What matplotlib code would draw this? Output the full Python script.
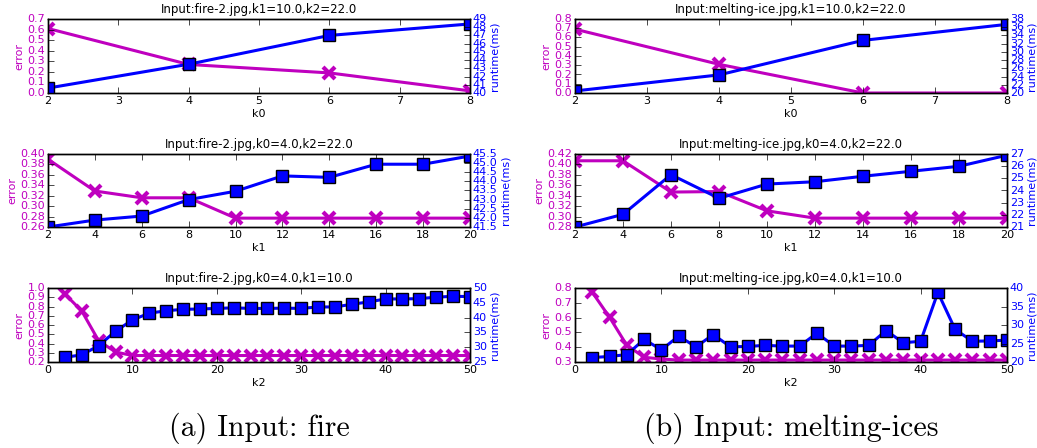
import matplotlib.pyplot as plt
import numpy as np

plt.style.use('classic')
plt.rcParams['figure.facecolor'] = 'white'
plt.rcParams['savefig.facecolor'] = 'white'
plt.rcParams['font.size'] = 8

# k0 sweep (k1=10, k2=22)
k0 = [2, 4, 6, 8]
fire_k0_err = [0.61, 0.27, 0.19, 0.02]
fire_k0_time = [40.6, 43.5, 47.0, 48.4]
ice_k0_err = [0.69, 0.31, 0.0, 0.0]
ice_k0_time = [20.5, 24.4, 32.8, 36.7]

# k1 sweep (k0=4, k2=22)
k1 = [2, 4, 6, 8, 10, 12, 14, 16, 18, 20]
fire_k1_err = [0.390, 0.329, 0.316, 0.316, 0.277, 0.277, 0.277, 0.277, 0.277, 0.277]
fire_k1_time = [41.5, 41.88, 42.1, 43.0, 43.46, 44.3, 44.22, 44.94, 44.94, 45.39]
ice_k1_err = [0.407, 0.407, 0.347, 0.348, 0.311, 0.297, 0.297, 0.297, 0.297, 0.297]
ice_k1_time = [21.0, 22.04, 25.3, 23.36, 24.53, 24.72, 25.17, 25.58, 25.99, 26.9]

# k2 sweep (k0=4, k1=10)
k2 = list(range(2, 51, 2))
fire_k2_err = [0.935, 0.751, 0.43, 0.308, 0.27, 0.27, 0.27, 0.27, 0.27, 0.27,
               0.27, 0.27, 0.27, 0.27, 0.27, 0.27, 0.27, 0.27, 0.27, 0.27,
               0.27, 0.27, 0.27, 0.27, 0.27]
fire_k2_time = [26.6, 27.4, 30.5, 35.4, 39.2, 41.5, 42.3, 42.8, 42.9, 43.1,
                43.3, 43.1, 43.1, 43.2, 43.1, 43.6, 43.6, 44.5, 45.3, 46.3,
                46.3, 46.4, 46.9, 47.2, 47.1]
ice_k2_err = [0.771, 0.602, 0.413, 0.332, 0.32, 0.313, 0.313, 0.313, 0.313, 0.313,
              0.313, 0.313, 0.313, 0.313, 0.313, 0.313, 0.313, 0.313, 0.313, 0.313,
              0.313, 0.313, 0.313, 0.313, 0.313]
ice_k2_time = [21.2, 21.5, 22.0, 26.1, 23.3, 27.0, 24.1, 27.4, 24.1, 24.2,
               24.5, 24.3, 24.3, 27.8, 24.3, 24.3, 24.5, 28.5, 25.2, 25.6,
               38.8, 28.8, 25.6, 25.7, 25.9]


def panel(rect, x, err, rt, title, xlabel, xlim, xticks, elim, eticks, rlim, rticks):
    ax = fig.add_axes(rect)
    ax.plot(x, err, color='m', lw=2.2, marker='x', ms=8, mew=3, mec='m')
    ax.set_xlim(xlim)
    ax.set_ylim(elim)
    ax.set_xticks(xticks)
    ax.set_yticks(eticks)
    ax.set_ylabel('error', color='m', labelpad=2)
    ax.tick_params(axis='y', labelsize=8, pad=2)
    for t in ax.get_yticklabels():
        t.set_color('m')
    ax.tick_params(axis='x', labelsize=8, pad=2)
    ax.set_xlabel(xlabel, labelpad=2)
    ax.set_title(title, fontsize=8.5, y=0.99)

    ax2 = ax.twinx()
    ax2.plot(x, rt, color='b', lw=2.2, marker='s', ms=8, mew=1, mec='k')
    ax2.set_ylim(rlim)
    ax2.set_yticks(rticks)
    ax2.set_xlim(xlim)
    ax2.set_ylabel('runtime(ms)', color='b', labelpad=2)
    ax2.tick_params(axis='y', labelsize=8, pad=2)
    for t in ax2.get_yticklabels():
        t.set_color('b')
    return ax, ax2


fig = plt.figure(figsize=(10.37, 4.48), dpi=100)

lx, lw_ = 48 / 1037, 422 / 1037
rx, rw_ = 575 / 1037, 432 / 1037
rows = [(1 - 93 / 448, 74 / 448), (1 - 227 / 448, 73 / 448), (1 - 362 / 448, 74 / 448)]

# row 1: k0
panel([lx, rows[0][0], lw_, rows[0][1]], k0, fire_k0_err, fire_k0_time,
      'Input:fire-2.jpg,k1=10.0,k2=22.0', 'k0', (2, 8), range(2, 9),
      (0, 0.7), np.arange(0, 0.71, 0.1), (40, 49), range(40, 50))
panel([rx, rows[0][0], rw_, rows[0][1]], k0, ice_k0_err, ice_k0_time,
      'Input:melting-ice.jpg,k1=10.0,k2=22.0', 'k0', (2, 8), range(2, 9),
      (0, 0.8), np.arange(0, 0.81, 0.1), (20, 38), range(20, 39, 2))

# row 2: k1
panel([lx, rows[1][0], lw_, rows[1][1]], k1, fire_k1_err, fire_k1_time,
      'Input:fire-2.jpg,k0=4.0,k2=22.0', 'k1', (2, 20), range(2, 21, 2),
      (0.26, 0.40), np.arange(0.26, 0.401, 0.02), (41.5, 45.5), np.arange(41.5, 45.51, 0.5))
panel([rx, rows[1][0], rw_, rows[1][1]], k1, ice_k1_err, ice_k1_time,
      'Input:melting-ice.jpg,k0=4.0,k2=22.0', 'k1', (2, 20), range(2, 21, 2),
      (0.28, 0.42), np.arange(0.28, 0.421, 0.02), (21, 27), range(21, 28))

# row 3: k2
panel([lx, rows[2][0], lw_, rows[2][1]], k2, fire_k2_err, fire_k2_time,
      'Input:fire-2.jpg,k0=4.0,k1=10.0', 'k2', (0, 50), range(0, 51, 10),
      (0.2, 1.0), np.arange(0.2, 1.01, 0.1), (25, 50), range(25, 51, 5))
panel([rx, rows[2][0], rw_, rows[2][1]], k2, ice_k2_err, ice_k2_time,
      'Input:melting-ice.jpg,k0=4.0,k1=10.0', 'k2', (0, 50), range(0, 51, 10),
      (0.3, 0.8), np.arange(0.3, 0.81, 0.1), (20, 40), range(20, 41, 5))

fig.text(lx + lw_ / 2, 0.043, '(a) Input: fire', family='cmr10', fontsize=21.5,
         ha='center', va='center')
fig.text(rx + rw_ / 2, 0.043, '(b) Input: melting-ices', family='cmr10', fontsize=21.5,
         ha='center', va='center')

fig.savefig('out.png', dpi=100)
